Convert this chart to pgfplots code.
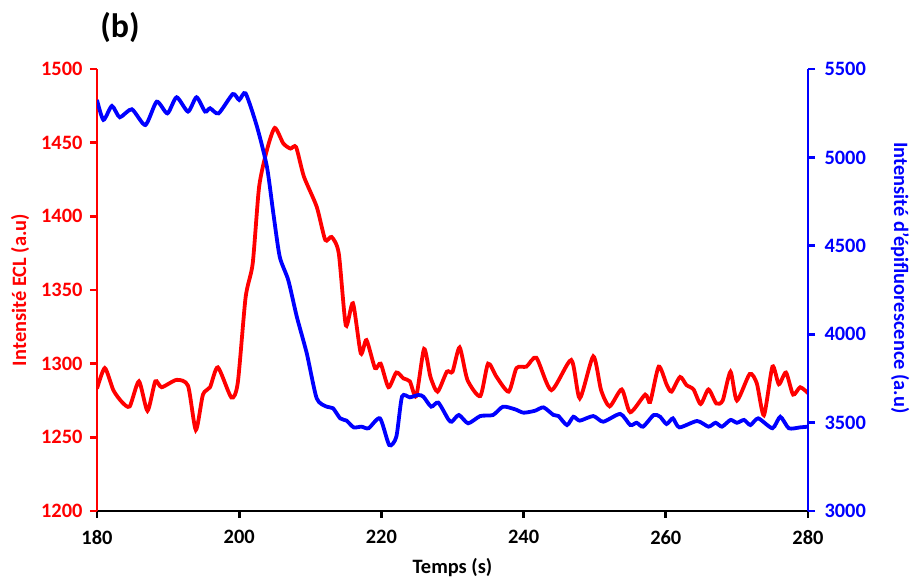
\documentclass[border=0pt]{standalone}
\usepackage{fontspec}
\setmainfont{Carlito}
\usepackage{pgfplots}
\pgfplotsset{compat=1.18}
\begin{document}
\begin{tikzpicture}[x=1bp,y=1bp]
\useasboundingbox (-97,-67) rectangle (814,511);
\begin{axis}[
 at={(0,0)}, anchor=south west, scale only axis, width=711bp, height=442bp,
 xmin=180, xmax=280, ymin=1200, ymax=1500,
 axis x line*=bottom, axis y line*=left,
 xtick pos=left, ytick pos=left,
 xtick={180,200,...,280}, ytick={1200,1250,...,1500},
 tick align=outside, major tick length=7bp,
 x axis line style={black, line width=2.8bp,-},
 y axis line style={red, line width=2.8bp,-},
 xtick style={black, line width=2.8bp},
 ytick style={red, line width=2.8bp},
 ticklabel style={font=\bfseries\fontsize{20.5}{22}\selectfont},
 yticklabel style={red, xshift=-4bp},
 xticklabel style={yshift=-9bp},
 /pgf/number format/assume math mode=true,
 /pgf/number format/1000 sep={},
]
\addplot[red, line width=3.8bp, smooth, tension=0.4] coordinates {
(180,1283) (181.1,1297) (182.3,1282) (183.5,1274) (184.6,1271) (185.9,1288) (187.1,1268) (188.2,1288) (189.1,1284) (191.2,1289) (192.8,1285) (193.9,1255) (194.9,1279) (195.9,1284) (197.0,1297.5) (198.9,1277) (199.8,1287) (200.9,1345) (201.9,1368) (202.8,1420) (203.9,1445) (205.0,1460) (206.2,1449.5) (207.2,1446) (208.0,1447) (209.1,1427) (210.9,1406.5) (212.1,1384) (213.0,1386) (214.0,1375) (215.0,1326) (216.0,1341) (217.1,1307) (217.9,1316) (219.1,1297) (219.9,1300) (221.0,1284) (222.1,1294) (223.1,1290) (224.0,1288) (224.9,1278) (226.0,1310) (226.9,1291) (227.9,1281) (229.2,1294.5) (230.0,1294.5) (231.0,1311) (232.1,1289) (233.9,1278) (235.0,1300) (236.2,1291) (237.9,1281) (239.0,1297) (240.4,1298) (241.8,1304) (243.9,1282) (246.7,1302.5) (247.9,1276.5) (249.8,1305) (250.9,1282) (252.1,1271) (253.8,1282.5) (255.0,1267) (257.1,1279) (257.8,1274) (259.0,1298) (260.1,1286) (260.8,1281) (262.0,1291) (262.9,1285.5) (263.9,1282.5) (264.9,1272.6) (266.0,1282.5) (267.1,1273) (268.0,1275) (269.1,1294.5) (270.0,1275) (271.8,1293) (272.8,1286.6) (273.8,1265) (275.0,1298) (275.9,1286) (276.9,1294) (277.9,1279) (278.9,1284) (280,1280)
};
\end{axis}
\begin{axis}[
 at={(0,0)}, anchor=south west, scale only axis, width=711bp, height=442bp,
 xmin=180, xmax=280, ymin=3000, ymax=5500,
 axis x line=none, axis y line*=right, ytick pos=right,
 ytick={3000,3500,...,5500},
 tick align=outside, major tick length=7bp,
 y axis line style={blue, line width=2.8bp,-},
 ytick style={blue, line width=2.8bp},
 ticklabel style={font=\bfseries\fontsize{20.5}{22}\selectfont},
 yticklabel style={blue, xshift=6bp},
 /pgf/number format/assume math mode=true,
 /pgf/number format/1000 sep={},
]
\addplot[blue, line width=3.8bp, smooth, tension=0.4] coordinates {
(180,5325) (180.9,5212) (182.1,5291) (183.2,5227) (184.9,5272) (186.8,5183) (188.4,5315) (189.9,5249) (191.2,5340) (192.8,5259) (194.0,5340) (195.2,5259) (195.9,5278) (197.1,5249) (199.1,5358) (200.0,5325) (200.9,5362) (202.5,5174) (203.9,4947) (204.8,4684) (205.7,4438) (206.9,4306) (208.1,4099) (209.5,3892) (210.9,3637) (212.3,3590) (213.2,3581) (214.2,3524) (215.1,3511) (216.1,3473) (217.2,3477) (218.2,3468) (219.8,3524) (221.1,3373) (222.1,3420) (222.9,3647) (224.0,3643) (225.2,3656) (225.9,3647) (227.0,3590) (228.0,3613) (229.4,3519) (229.9,3505) (230.9,3543) (232.2,3496) (233.9,3537) (235.7,3543) (237.1,3590) (238.8,3575) (240.0,3556) (241.6,3567) (242.8,3586) (244.2,3543) (244.9,3537) (246.1,3486) (247.0,3533) (247.9,3511) (249.8,3537) (251.2,3505) (253.6,3549) (255.0,3486) (255.9,3499) (256.8,3477) (258.3,3543) (259.2,3533) (260.1,3492) (261.0,3524) (261.9,3473) (264.4,3509) (266.0,3477) (267.0,3499) (267.9,3477) (269.1,3515) (270.0,3499) (271.0,3515) (271.9,3486) (273.0,3524) (275.0,3468) (276.1,3533) (277.3,3468) (278.9,3473) (280,3477)
};
\end{axis}
\node[font=\bfseries\fontsize{34}{36}\selectfont] at (23,483) {(b)};
\node[rotate=90, text=red, font=\bfseries\fontsize{20.5}{22}\selectfont] at (-77,221) {Intensité ECL (a.u)};
\node[rotate=-90, text=blue, font=\bfseries\fontsize{20.5}{22}\selectfont] at (803,233) {Intensité d'épifluorescence (a.u)};
\node[font=\bfseries\fontsize{20.5}{22}\selectfont] at (355.5,-57) {Temps (s)};
\end{tikzpicture}
\end{document}
